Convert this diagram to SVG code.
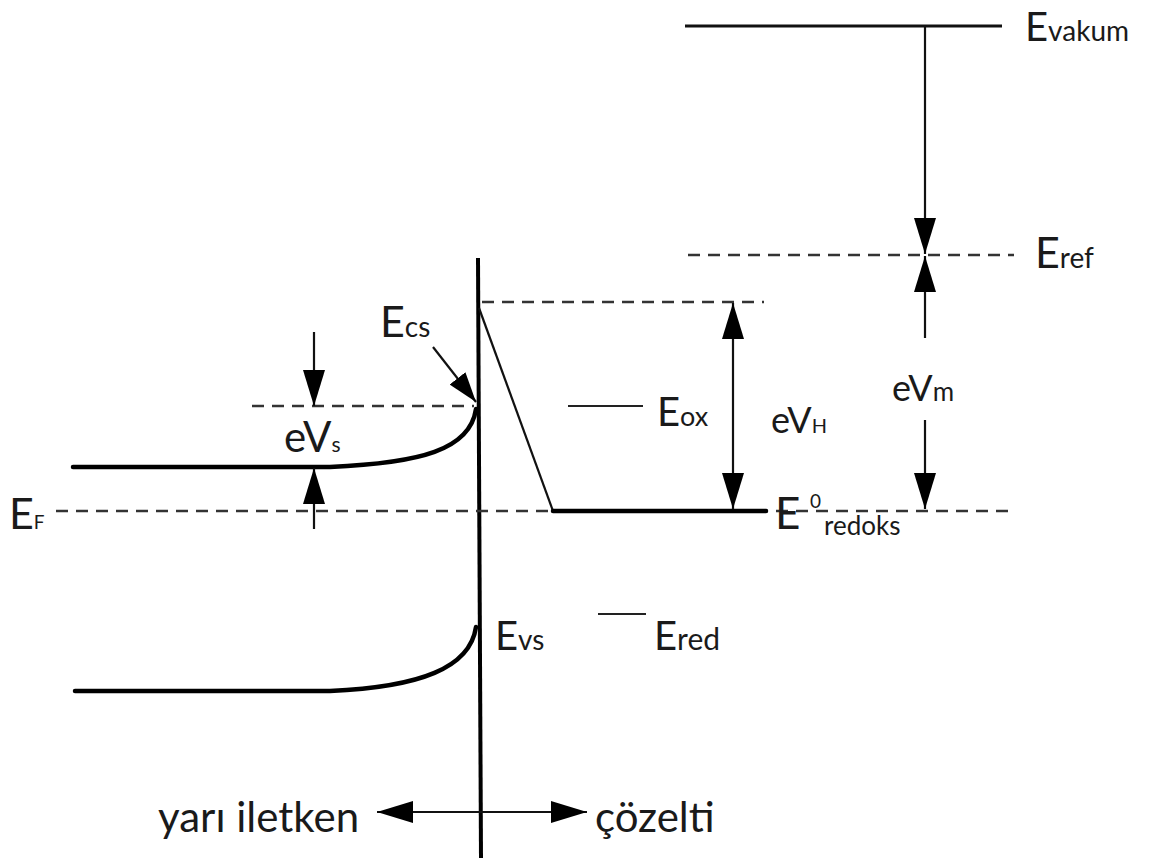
<svg xmlns="http://www.w3.org/2000/svg" width="1149" height="861" viewBox="0 0 1149 861">
<style>
.bg{fill:#ffffff}
.dash{stroke:#333;stroke-width:2.5;stroke-dasharray:12 8;fill:none}
.thick{stroke:#000;stroke-width:4.5;fill:none;stroke-linecap:round}
.thin{stroke:#111;stroke-width:2.2;fill:none}
.arr{stroke:#111;stroke-width:2.2;fill:none}
text{font-family:Lato,"Open Sans","Liberation Sans",sans-serif;fill:#1a1a1a}
.E{font-size:43px}
.sub{font-size:28px}
.bot{font-size:42px}
</style>
<defs>
<marker id="ah" markerUnits="userSpaceOnUse" markerWidth="36" markerHeight="22" refX="36" refY="11" orient="auto-start-reverse" viewBox="0 0 36 22">
<path d="M0,0 L36,11 L0,22 z" fill="#000"/>
</marker>
<marker id="ahs" markerUnits="userSpaceOnUse" markerWidth="30" markerHeight="20" refX="30" refY="10" orient="auto" viewBox="0 0 30 20">
<path d="M0,0 L30,10 L0,20 z" fill="#000"/>
</marker>
</defs>
<rect class="bg" x="0" y="0" width="1149" height="861"/>

<g id="levels">
<line id="interface" x1="478" y1="258" x2="481" y2="858" stroke="#000" stroke-width="4"/>
<line id="vacuum" x1="685" y1="26" x2="1002" y2="26" stroke="#111" stroke-width="3"/>
<line id="eref-line" class="dash" x1="688" y1="255" x2="1014" y2="255"/>
<line id="ecs-line" class="dash" x1="482" y1="302" x2="764" y2="302"/>
<line id="evs-dash" class="dash" x1="252" y1="406" x2="474" y2="406"/>
<line id="ef-line" class="dash" x1="56" y1="511" x2="1010" y2="511"/>
<path id="cb" class="thick" d="M73,467 L330,467 C420,463 470,450 476,409"/>
<path id="vb" class="thick" d="M75,691 L330,691 C420,687 470,668 476,627"/>
<line id="diag" class="thin" x1="479" y1="308" x2="553" y2="511"/>
<line id="redox-line" class="thick" x1="553" y1="511" x2="766" y2="511"/>
<line id="eox-line" stroke="#222" stroke-width="2" x1="568" y1="406" x2="643" y2="406"/>
<line id="ered-line" stroke="#222" stroke-width="2" x1="598" y1="614" x2="646" y2="614"/>
</g>

<g id="connectors">
<line id="a-vac" class="arr" x1="925" y1="27" x2="925" y2="254" marker-end="url(#ah)"/>
<line id="a-vm-up" class="arr" x1="925" y1="338" x2="925" y2="256" marker-end="url(#ah)"/>
<line id="a-vm-down" class="arr" x1="925" y1="420" x2="925" y2="509" marker-end="url(#ah)"/>
<line id="a-vh" class="arr" x1="733" y1="303" x2="733" y2="509" marker-start="url(#ah)" marker-end="url(#ah)"/>
<line id="a-vs-down" class="arr" x1="314" y1="332" x2="314" y2="406" marker-end="url(#ah)"/>
<line id="a-vs-up" class="arr" x1="314" y1="529" x2="314" y2="468" marker-end="url(#ah)"/>
<line id="a-ecs" class="arr" x1="433" y1="347" x2="476" y2="402" marker-end="url(#ahs)"/>
<line id="a-side" class="arr" x1="377" y1="812" x2="587" y2="812" marker-start="url(#ah)" marker-end="url(#ah)"/>
</g>

<g id="labels">
<text id="lbl-evakum" style="font-size:40px" x="1025" y="41">E<tspan class="sub">vakum</tspan></text>
<text id="lbl-eref" class="E" x="1035" y="268">E<tspan class="sub">ref</tspan></text>
<text id="lbl-ecs" class="E" x="380" y="337">E<tspan style="font-size:28px">cs</tspan></text>
<text id="lbl-evs" style="font-size:42px" x="284" y="452">eV<tspan style="font-size:21px">s</tspan></text>
<text id="lbl-eox" style="font-size:40px" x="657" y="426">E<tspan style="font-size:27px">ox</tspan></text>
<text id="lbl-evh" style="font-size:36px" x="771" y="433">eV<tspan style="font-size:20px">H</tspan></text>
<text id="lbl-evm" style="font-size:36px" x="892" y="401">eV<tspan style="font-size:26px">m</tspan></text>
<text id="lbl-redox-e" style="font-size:44px" x="775" y="529">E</text>
<text id="lbl-redox-0" style="font-size:19px" x="810" y="508">0</text>
<text id="lbl-redox-sub" style="font-size:26px" x="824" y="535">redoks</text>
<text id="lbl-ef" style="font-size:43px" x="9" y="529">E<tspan style="font-size:19px">F</tspan></text>
<text id="lbl-evs2" style="font-size:40px" x="495" y="650">E<tspan style="font-size:28px">vs</tspan></text>
<text id="lbl-ered" style="font-size:40px" x="654" y="650">E<tspan style="font-size:30px">red</tspan></text>
<text id="lbl-semi" class="bot" x="158" y="832">yarı iletken</text>
<text id="lbl-sol" class="bot" x="595" y="832">çözelti</text>
</g>
</svg>
